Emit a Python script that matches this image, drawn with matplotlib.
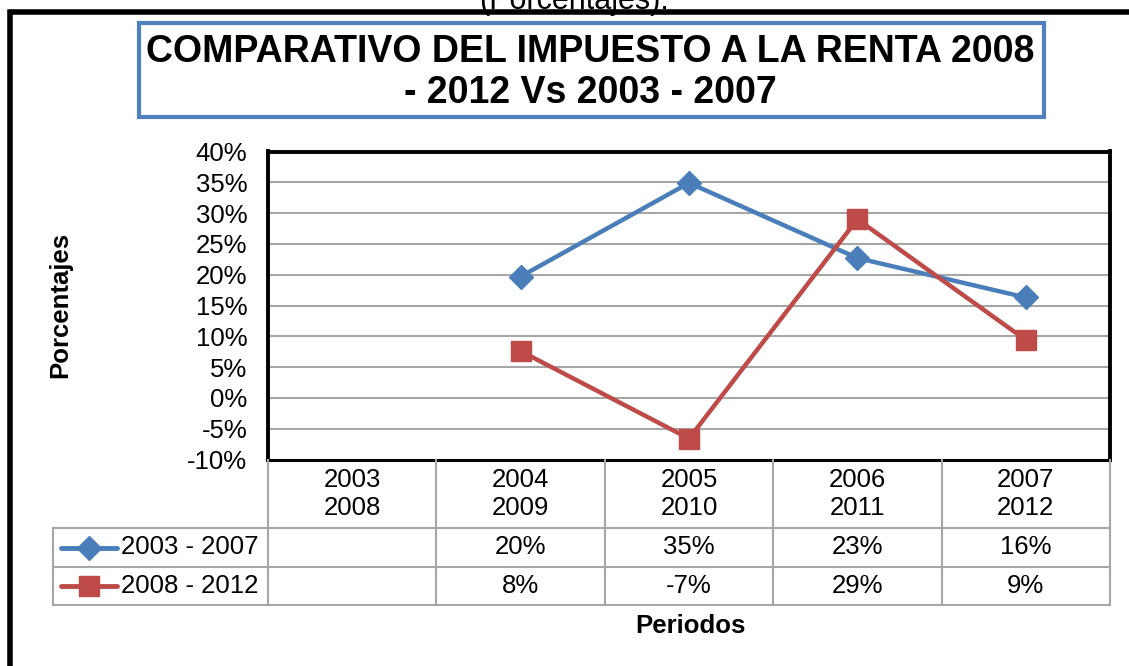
import numpy as np
import matplotlib
matplotlib.use("Agg")
import matplotlib.pyplot as plt
from matplotlib.lines import Line2D
from matplotlib.patches import Rectangle

# ---------------- data ----------------
categories = ["2003\n2008", "2004\n2009", "2005\n2010", "2006\n2011", "2007\n2012"]
series_names = ["2003 - 2007", "2008 - 2012"]
serie_2003_2007 = [np.nan, 19.7, 34.9, 22.7, 16.3]
serie_2008_2012 = [np.nan, 7.6, -6.6, 29.0, 9.4]
y_ticks = [-10, -5, 0, 5, 10, 15, 20, 25, 30, 35, 40]
title_text = "COMPARATIVO DEL IMPUESTO A LA RENTA 2008\n- 2012 Vs 2003 - 2007"
top_text = "(Porcentajes)."
y_label = "Porcentajes"
x_label = "Periodos"

# ---------------- style ----------------
W, H = 1129, 666
BLUE = "#4A7EBB"
RED = "#BE4B48"
GRID = "#A6A6A6"
FS = 18.5
plt.rcParams["font.family"] = ["Liberation Sans", "DejaVu Sans"]

fig = plt.figure(figsize=(W / 100, H / 100), dpi=100)


def fx(x):
    return x / W


def fy(y):
    return 1 - y / H


# plot area in pixels
L, R, T, B = 268, 1110, 151.5, 459.5
ax = fig.add_axes([fx(L), fy(B), fx(R - L), (B - T) / H])
x = np.arange(len(categories))
ax.plot(x, serie_2003_2007, color=BLUE, lw=3.2, marker="D", ms=12, mec=BLUE, mfc=BLUE, zorder=3)
ax.plot(x, serie_2008_2012, color=RED, lw=3.2, marker="s", ms=14.5, mec=RED, mfc=RED, zorder=3)
ax.set_xlim(-0.5, len(categories) - 0.5)
ax.set_ylim(-10, 40)
ax.set_yticks(y_ticks)
ax.set_yticklabels([f"{t}%" for t in y_ticks], fontsize=FS)
ax.set_xticks([])
ax.tick_params(axis="y", length=0, pad=15)
ax.yaxis.grid(True, color=GRID, lw=1.5)
ax.set_axisbelow(True)
for s in ax.spines.values():
    s.set_linewidth(2.8)
    s.set_color("black")
ax.spines["bottom"].set_linewidth(2.2)

# text cut at the top of the image, then outer frame above it
fig.text(fx(574), fy(8.5), top_text, ha="center", va="baseline", fontsize=22, zorder=1)
fig.add_artist(Rectangle((fx(10), fy(H + 50)), 1.2, (H + 50 - 11.5) / H,
                         transform=fig.transFigure, fill=False, ec="black", lw=4, zorder=2))

# title box
fig.add_artist(Rectangle((fx(139), fy(117)), fx(1044 - 139), (117 - 23) / H,
                         transform=fig.transFigure, fill=True, fc="white", ec="#4F81BD", lw=3))
fig.text(fx(590), fy(72.5), title_text, ha="center", va="center", fontsize=27,
         fontweight="bold", linespacing=1.18)

# y label
fig.text(fx(60), fy(305), y_label, rotation=90, ha="center", va="center",
         fontsize=FS, fontweight="bold")

# data table
row_tops = [459.5, 528, 567, 605]
col_w = (R - L) / len(categories)
col_edges = [L + i * col_w for i in range(len(categories) + 1)]
tl = dict(color=GRID, lw=1.5, transform=fig.transFigure)
for xe in col_edges:
    fig.add_artist(Line2D([fx(xe), fx(xe)], [fy(row_tops[0]), fy(row_tops[-1])], **tl))
for yr in row_tops[1:]:
    fig.add_artist(Line2D([fx(53), fx(R)], [fy(yr), fy(yr)], **tl))
fig.add_artist(Line2D([fx(53), fx(53)], [fy(row_tops[1]), fy(row_tops[-1])], **tl))

for i, c in enumerate(categories):
    cx = L + (i + 0.5) * col_w
    fig.text(fx(cx), fy(494), c, ha="center", va="center", fontsize=FS, linespacing=1.25)

series = [serie_2003_2007, serie_2008_2012]
colors = [BLUE, RED]
markers = ["D", "s"]
msizes = [12, 14]
for r, (name, vals, col, mk, msz) in enumerate(zip(series_names, series, colors, markers, msizes)):
    cy = (row_tops[r + 1] + row_tops[r + 2]) / 2
    fig.add_artist(Line2D([fx(61), fx(117)], [fy(cy), fy(cy)], color=col, lw=3.5,
                          solid_capstyle="round", transform=fig.transFigure))
    fig.add_artist(Line2D([fx(89)], [fy(cy)], color=col, marker=mk, ms=msz, mec=col,
                          mfc=col, transform=fig.transFigure))
    fig.text(fx(121), fy(cy), name, ha="left", va="center", fontsize=FS)
    for i, v in enumerate(vals):
        if np.isnan(v):
            continue
        cx = L + (i + 0.5) * col_w
        fig.text(fx(cx), fy(cy), f"{v:.0f}%", ha="center", va="center", fontsize=FS)

fig.text(fx(690), fy(626), x_label, ha="center", va="center", fontsize=FS, fontweight="bold")

fig.savefig("out.png", dpi=100)
